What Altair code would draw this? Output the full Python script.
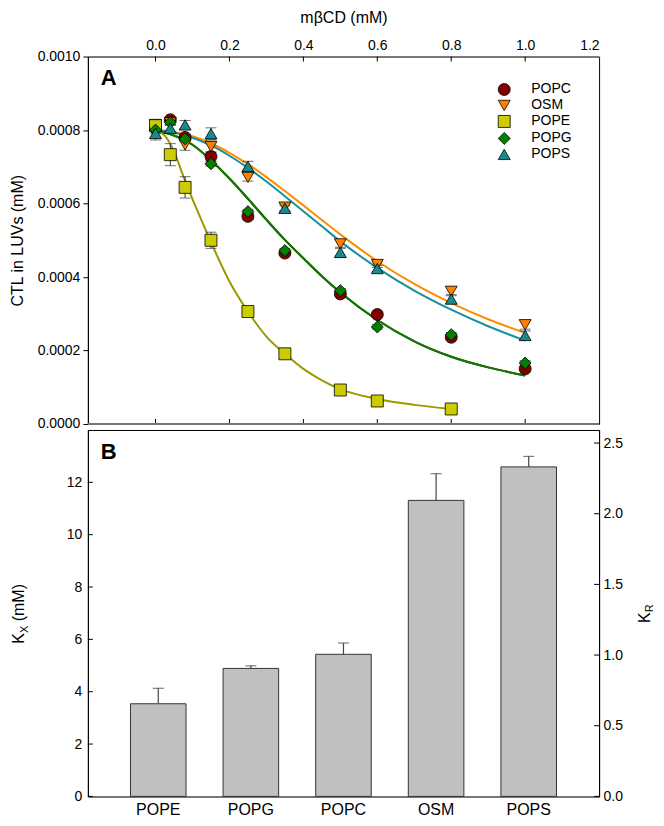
import altair as alt
import pandas as pd

# ---------------- Panel A data ----------------
lipids = ["POPC", "OSM", "POPE", "POPG", "POPS"]
marker_fill = ["#800000", "#FF8000", "#CCCC00", "#008000", "#17898F"]
marker_shape = ["circle", "triangle-down", "square", "diamond", "triangle-up"]
marker_edge = ["black", "black", "black", "black", "black"]
line_color = {"POPC": "#800000", "OSM": "#FF8C00", "POPE": "#999900", "POPG": "#008000", "POPS": "#17909A"}
line_order = ["POPC", "OSM", "POPE", "POPS", "POPG"]

mbcd = [0.0, 0.04, 0.08, 0.15, 0.25, 0.35, 0.5, 0.6, 0.8, 1.0]
ctl_popc = [0.000805, 0.000828, 0.000780, 0.000728, 0.000565, 0.000465, 0.000354, 0.000298, 0.000236, 0.000150]
ctl_osm = [0.000815, 0.000820, 0.000760, 0.000755, 0.000671, 0.000590, 0.000490, 0.000434, 0.000361, 0.000270]
ctl_pope = [0.000812, 0.000733, 0.000644, 0.000500, 0.000306, 0.000191, 0.0000925, 0.0000626, 0.0000408, None]
ctl_popg = [0.000800, 0.000821, 0.000776, 0.000708, 0.000578, 0.000472, 0.000363, 0.000264, 0.000243, 0.000166]
ctl_pops = [0.000791, 0.000805, 0.000814, 0.000790, 0.000701, 0.000587, 0.000467, 0.000423, 0.000340, 0.000241]

err_popc = [0.000008, 0.000006, 0.000008, 0.000012, 0.000008, 0.000006, 0.000006, 0.000006, 0.000006, 0.000006]
err_osm = [0.000010, 0.000006, 0.000015, 0.000015, 0.000010, 0.000010, 0.000012, 0.000008, 0.000012, 0.000012]
err_pope = [0.000010, 0.000030, 0.000029, 0.000022, 0.000008, 0.000006, 0.000006, 0.000006, 0.000006, None]
err_popg = [0.000010, 0.000008, 0.000006, 0.000006, 0.000006, 0.000006, 0.000006, 0.000006, 0.000006, 0.000006]
err_pops = [0.000018, 0.000010, 0.000012, 0.000016, 0.000014, 0.000008, 0.000014, 0.000008, 0.000012, 0.000012]

# fitted curves
fit_x = [0.0, 0.05, 0.1, 0.15, 0.2, 0.25, 0.3, 0.35, 0.4, 0.45, 0.5, 0.6, 0.7, 0.8, 0.9, 1.0]
fit_popc = [0.000800, 0.000785, 0.000760, 0.000718, 0.000668, 0.000613, 0.000556, 0.000501, 0.000451, 0.000402, 0.000358, 0.000283, 0.000225, 0.000183, 0.000154, 0.000132]
fit_popg = [0.000800, 0.000785, 0.000760, 0.000718, 0.000668, 0.000613, 0.000556, 0.000501, 0.000451, 0.000402, 0.000358, 0.000283, 0.000225, 0.000183, 0.000154, 0.000132]
fit_osm = [0.000800, 0.000795, 0.000783, 0.000764, 0.000738, 0.000707, 0.000672, 0.000634, 0.000595, 0.000555, 0.000516, 0.000443, 0.000381, 0.000329, 0.000285, 0.000248]
fit_pops = [0.000800, 0.000793, 0.000779, 0.000758, 0.000730, 0.000697, 0.000660, 0.000620, 0.000579, 0.000538, 0.000497, 0.000425, 0.000363, 0.000311, 0.000266, 0.000227]
fit_pope_x = [0.0, 0.025, 0.05, 0.075, 0.1, 0.125, 0.15, 0.2, 0.25, 0.3, 0.35, 0.4, 0.45, 0.5, 0.6, 0.7, 0.8]
fit_pope = [0.000800, 0.000785, 0.000742, 0.000675, 0.000612, 0.000553, 0.000495, 0.000388, 0.000306, 0.000238, 0.000191, 0.000150, 0.000119, 0.000095, 0.000068, 0.000052, 0.000041]

top_ticks = [0.0, 0.2, 0.4, 0.6, 0.8, 1.0, 1.2]
ctl_ticks = [0.0, 0.0002, 0.0004, 0.0006, 0.0008, 0.0010]

# ---------------- Panel B data ----------------
bar_lipids = ["POPE", "POPG", "POPC", "OSM", "POPS"]
kx = [3.54, 4.89, 5.43, 11.31, 12.59]
kx_err = [0.59, 0.10, 0.43, 1.02, 0.40]
kx_ticks = [0, 2, 4, 6, 8, 10, 12]
kr_ticks = [0.0, 0.5, 1.0, 1.5, 2.0, 2.5]
kx_per_kr = 5.4

FONT = "Liberation Sans"
W = 512
HA = 368
HB = 367

# ---------- build tables ----------
series = {"POPC": (ctl_popc, err_popc), "OSM": (ctl_osm, err_osm), "POPE": (ctl_pope, err_pope),
          "POPG": (ctl_popg, err_popg), "POPS": (ctl_pops, err_pops)}
rows = []
for name in lipids:
    vals, errs = series[name]
    for xv, yv, ev in zip(mbcd, vals, errs):
        if yv is None:
            continue
        rows.append({"lipid": name, "x": xv, "y": yv, "lo": yv - ev, "hi": yv + ev})
pts = pd.DataFrame(rows)
caps = pd.concat([pts.assign(c=pts["lo"]), pts.assign(c=pts["hi"])])

fits = {"POPC": (fit_x, fit_popc), "OSM": (fit_x, fit_osm), "POPE": (fit_pope_x, fit_pope),
        "POPG": (fit_x, fit_popg), "POPS": (fit_x, fit_pops)}
frows = []
for name in lipids:
    xs, ys = fits[name]
    for xv, yv in zip(xs, ys):
        frows.append({"curve": name, "x": xv, "y": yv})
fit_df = pd.DataFrame(frows)

xA = alt.Scale(domain=[-0.183, 1.2], nice=False, zero=False)
yA = alt.Scale(domain=[0, 0.001], nice=False)
AX_X = alt.Axis(orient="top", values=top_ticks, format=".1f", ticks=False, grid=False,
                title="mβCD (mM)", titleFontSize=16, titleFontWeight="normal", titlePadding=13,
                labelFontSize=14, labelPadding=4, domainColor="#777", domainWidth=1.5)
AX_Y = alt.Axis(values=ctl_ticks, format=".4f", tickSize=5, tickColor="black", grid=False,
                title="CTL in LUVs (mM)", titleFontSize=16, titleFontWeight="normal", titlePadding=12,
                labelFontSize=14, labelPadding=3, domainColor="black")


def XA(field):
    return alt.X(field, scale=xA, axis=AX_X)


def YA(field):
    return alt.Y(field, scale=yA, axis=AX_Y)


one = pd.DataFrame({"k": [0]})

line_layers = []
for name in line_order:
    line_layers.append(
        alt.Chart(fit_df).transform_filter(alt.datum.curve == name).mark_line(
            strokeWidth=2, interpolate="monotone", color=line_color[name]).encode(
            x=XA("x:Q"), y=YA("y:Q")))

err_rule = alt.Chart(pts).mark_rule(color="#333", strokeWidth=1).encode(
    x=XA("x:Q"), y=YA("lo:Q"), y2="hi:Q")
err_caps = alt.Chart(caps).mark_tick(orient="horizontal", size=11, thickness=1, color="#333").encode(
    x=XA("x:Q"), y=YA("c:Q"))

leg = alt.Legend(title=None, orient="none", legendX=410, legendY=26, labelFontSize=14, labelFont=FONT,
                 symbolStrokeWidth=0.8, symbolSize=144, symbolOpacity=1,
                 labelOffset=20, rowPadding=1, padding=0, labelColor="black")
points = alt.Chart(pts).mark_point(filled=True, strokeWidth=0.8, opacity=1, size=144).encode(
    x=XA("x:Q"), y=YA("y:Q"),
    fill=alt.Fill("lipid:N", scale=alt.Scale(domain=lipids, range=marker_fill), legend=leg),
    shape=alt.Shape("lipid:N", scale=alt.Scale(domain=lipids, range=marker_shape), legend=leg),
    stroke=alt.Stroke("lipid:N", scale=alt.Scale(domain=lipids, range=marker_edge), legend=leg),
)

tick_df = pd.DataFrame({"t": top_ticks[:-1]})
ticks_top = alt.Chart(tick_df).mark_rule(color="black").encode(
    x=XA("t:Q"), y=alt.value(0), y2=alt.value(5))
ticks_bot = alt.Chart(tick_df).mark_rule(color="black").encode(
    x=XA("t:Q"), y=alt.value(HA - 5), y2=alt.value(HA))
bottom_line = alt.Chart(one).mark_rule(color="#777", strokeWidth=2).encode(
    x=alt.value(0), x2=alt.value(W), y=alt.value(HA))
label_a = alt.Chart(one).mark_text(font=FONT, fontSize=22, fontWeight="bold", align="left",
                                   baseline="alphabetic").encode(
    x=alt.value(13), y=alt.value(28), text=alt.value("A"))

panel_a = alt.layer(*line_layers, err_rule, err_caps, points, ticks_top, ticks_bot,
                    bottom_line, label_a).properties(width=W, height=HA)

# ---------------- Panel B ----------------
bdf = pd.DataFrame({"lipid": bar_lipids, "kx": kx, "hi": [a + b for a, b in zip(kx, kx_err)]})
xB = alt.Scale(domain=bar_lipids, paddingInner=0.4, paddingOuter=0.46)
yB = alt.Scale(domain=[0, 14], nice=False)
yR = alt.Scale(domain=[0, 14 / kx_per_kr], nice=False)
AX_XB = alt.Axis(title=None, labelAngle=0, ticks=False, labelFontSize=16, labelPadding=5,
                 domainColor="#777", domainWidth=2)
AX_YB = alt.Axis(values=kx_ticks, ticks=False, title=None, labelFontSize=14,
                 labelPadding=6, grid=False, domainColor="black")


def XB(field):
    return alt.X(field, sort=bar_lipids, scale=xB, axis=AX_XB)


def YB(field):
    return alt.Y(field, scale=yB, axis=AX_YB)


bars = alt.Chart(bdf).mark_bar(fill="#C0C0C0", stroke="#333", strokeWidth=1).encode(
    x=XB("lipid:N"), y=YB("kx:Q"))
b_rule = alt.Chart(bdf).mark_rule(color="#444", strokeWidth=1.2).encode(
    x=XB("lipid:N"), y=YB("kx:Q"), y2="hi:Q")
b_cap = alt.Chart(bdf).mark_tick(orient="horizontal", size=11, thickness=1.2, color="#444").encode(
    x=XB("lipid:N"), y=YB("hi:Q"))
kx_tick_rules = alt.Chart(pd.DataFrame({"t": kx_ticks})).mark_rule(color="black").encode(
    y=YB("t:Q"), x=alt.value(0), x2=alt.value(5))
label_b = alt.Chart(one).mark_text(font=FONT, fontSize=22, fontWeight="bold", align="left",
                                   baseline="alphabetic").encode(
    x=alt.value(13), y=alt.value(29), text=alt.value("B"))
kx_t1 = alt.Chart(one).mark_text(font=FONT, fontSize=16, angle=270, align="left", baseline="alphabetic").encode(
    x=alt.value(-64), y=alt.value(214), text=alt.value("K"))
kx_t2 = alt.Chart(one).mark_text(font=FONT, fontSize=11, angle=270, align="left", baseline="alphabetic").encode(
    x=alt.value(-60), y=alt.value(203.3), text=alt.value("X"))
kx_t3 = alt.Chart(one).mark_text(font=FONT, fontSize=16, angle=270, align="left", baseline="alphabetic").encode(
    x=alt.value(-64), y=alt.value(191.6), text=alt.value("(mM)"))

left_layer = alt.layer(bars, b_rule, b_cap, kx_tick_rules, label_b, kx_t1, kx_t2, kx_t3)

kr_rules = alt.Chart(pd.DataFrame({"r": kr_ticks})).mark_rule(color="black").encode(
    y=alt.Y("r:Q", scale=yR, axis=alt.Axis(orient="right", values=kr_ticks, format=".1f", ticks=False,
                                           title=None, labelFontSize=14, labelPadding=4, grid=False,
                                           domainColor="black")),
    x=alt.value(W - 5), x2=alt.value(W))
kr_t1 = alt.Chart(one).mark_text(font=FONT, fontSize=16, angle=270, align="left", baseline="alphabetic").encode(
    x=alt.value(W + 51), y=alt.value(193.3), text=alt.value("K"))
kr_t2 = alt.Chart(one).mark_text(font=FONT, fontSize=11, angle=270, align="left", baseline="alphabetic").encode(
    x=alt.value(W + 54), y=alt.value(182.6), text=alt.value("R"))
right_layer = alt.layer(kr_rules, kr_t1, kr_t2)

panel_b = alt.layer(left_layer, right_layer).resolve_scale(y="independent").properties(width=W, height=HB)

chart = alt.vconcat(panel_a, panel_b, spacing=6, bounds="flush").configure(
    padding={"left": 0, "top": 0, "right": 0, "bottom": 0},
    font=FONT,
).configure_view(stroke="black", strokeWidth=1).configure_axis(
    labelFont=FONT, titleFont=FONT, labelColor="black", titleColor="black")

chart.save("out.html", embed_options={"renderer": "svg", "actions": False})
